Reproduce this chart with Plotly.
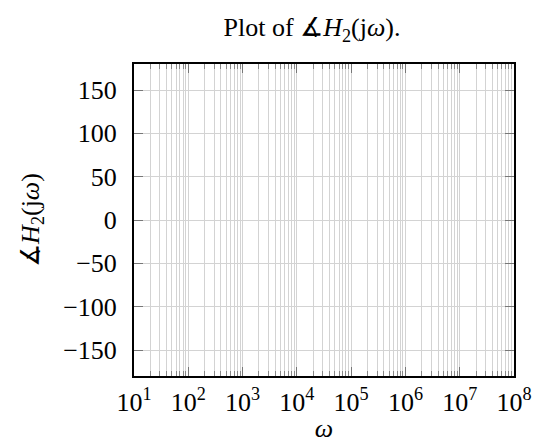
import plotly.graph_objects as go

# Data: the reference plot area shows no curve (empty phase data)
omega = []
phase = []

x_tickvals = [1e1, 1e2, 1e3, 1e4, 1e5, 1e6, 1e7, 1e8]
x_ticktext = ["10<sup>1</sup>", "10<sup>2</sup>", "10<sup>3</sup>", "10<sup>4</sup>",
              "10<sup>5</sup>", "10<sup>6</sup>", "10<sup>7</sup>", "10<sup>8</sup>"]
y_tickvals = [-150, -100, -50, 0, 50, 100, 150]

FONT = "Liberation Serif, DejaVu Serif, serif"
FS = 26
GRID = "#d3d3d3"
W, H = 532, 435

fig = go.Figure()
fig.add_trace(go.Scatter(x=omega, y=phase, mode="lines",
                         line=dict(color="#1f3fbf", width=1.5), showlegend=False))

fig.update_layout(
    width=W, height=H,
    margin=dict(l=126, r=26, t=56, b=67),
    paper_bgcolor="white", plot_bgcolor="white",
    font=dict(family=FONT, size=FS, color="black"),
    title=dict(text="Plot of \u2221<i>H</i><sub>2</sub>(j<i>\u03c9</i>).",
               x=304 / W, xanchor="center", y=1 - 19 / H, yanchor="middle",
               font=dict(family=FONT, size=FS, color="black"), automargin=False),
)

fig.update_xaxes(
    type="log", range=[1, 8], automargin=False,
    tickvals=x_tickvals, ticktext=x_ticktext,
    ticks="inside", ticklen=9, tickcolor="#777777", tickwidth=1,
    showgrid=True, gridcolor=GRID, gridwidth=1,
    minor=dict(ticks="inside", ticklen=5, tickcolor="#888888", showgrid=True,
               gridcolor=GRID, gridwidth=1, dtick="D1"),
    showline=True, linecolor="black", linewidth=2, mirror="allticks",
    zeroline=False, ticklabelstandoff=2,
    title=dict(text="<i>\u03c9</i>", standoff=4, font=dict(family=FONT, size=FS)),
    tickfont=dict(family=FONT, size=FS),
)
fig.update_yaxes(
    range=[-180, 180], tickvals=y_tickvals, automargin=False,
    ticks="inside", ticklen=9, tickcolor="#777777", tickwidth=1,
    showgrid=True, gridcolor=GRID, gridwidth=1,
    showline=True, linecolor="black", linewidth=2, mirror="allticks",
    zeroline=False, ticklabelstandoff=10,
    title=dict(text="\u2221<i>H</i><sub>2</sub>(j<i>\u03c9</i>)", standoff=16,
               font=dict(family=FONT, size=FS)),
    tickfont=dict(family=FONT, size=FS),
)

fig.write_html("out.html")
